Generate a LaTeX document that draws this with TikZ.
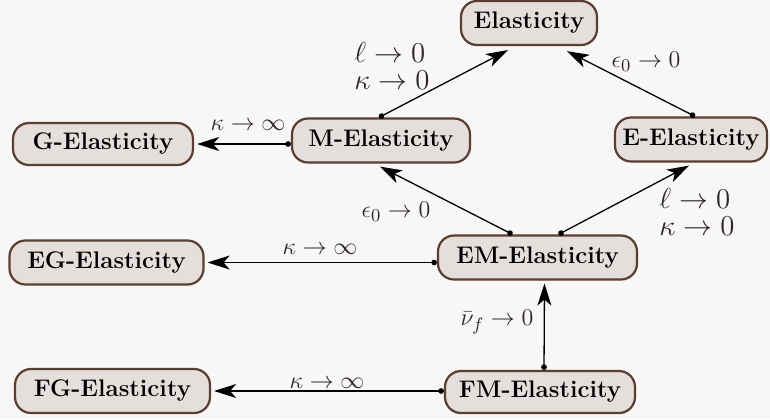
\documentclass[tikz,border=0pt]{standalone}
\usetikzlibrary{calc,arrows.meta}
\definecolor{bgc}{HTML}{F7F7F7}
\definecolor{boxfill}{HTML}{E4DFDC}
\definecolor{boxline}{HTML}{5C3D2E}
\definecolor{labc}{HTML}{2E2522}
\begin{document}
\begin{tikzpicture}[x=0.5pt,y=-0.5pt,
  ebox/.style={draw=boxline,fill=boxfill,line width=1.1pt,rounded corners=8pt,
    minimum height=22pt,inner xsep=0pt,
    font=\fontsize{12}{14}\selectfont\bfseries},
  lab/.style={text=labc,font=\fontsize{12.8}{14}\selectfont,inner sep=0pt},
  biglab/.style={lab,align=left,font=\fontsize{13.8}{14}\selectfont},
  conn/.style={line width=0.65pt,{Circle[length=2.8pt]}-{Stealth[length=11pt,width=7pt,inset=3pt]}}]
\fill[bgc] (0,0) rectangle (770,419);
\useasboundingbox (0,0) rectangle (770,419);
\node[ebox,minimum width=68pt] (Elast) at (529,23) {Elasticity};
\node[ebox,minimum width=89pt] (M) at (381,140.5) {M-Elasticity};
\node[ebox,minimum width=90pt,minimum height=21pt] (G) at (103,144) {G-Elasticity};
\node[ebox,minimum width=76pt] (E) at (691,139.5) {E-Elasticity};
\node[ebox,minimum width=99.5pt] (EM) at (537.5,257.5) {EM-Elasticity};
\node[ebox,minimum width=97pt] (EG) at (106.5,262.5) {EG-Elasticity};
\node[ebox,minimum width=95pt,minimum height=21pt] (FM) at (540,392) {FM-Elasticity};
\node[ebox,minimum width=97.5pt] (FG) at (112.5,391) {FG-Elasticity};

\draw[conn] ($(M.north)+(-2,0)$) -- ($(Elast.south)+(-21,4)$);
\draw[conn] ($(E.north)+(4,0)$) -- ($(Elast.south)+(38,5)$);
\draw[conn] (M.west |- G.east) -- ($(G.east)+(3,0)$);
\draw[conn] ($(EM.north)+(-25,0)$) -- ($(M.south)+(-1,3)$);
\draw[conn] ($(EM.north)+(21,0)$) -- ($(E.south)+(-2,3)$);
\draw[conn] (EM.west |- EG.east) -- ($(EG.east)+(3,0)$);
\draw[conn] ($(FM.north)+(4,0)$) -- ($(EM.south)+(7,3)$);
\draw[conn] (FM.west |- FG.east) -- ($(FG.east)+(3,0)$);

\node[biglab] (l1) at (392,66) {$\ell\to 0$\\[-0.5pt]$\kappa\to 0$};
\node[lab] (l2) at (646,62) {$\epsilon_0\to 0$};
\node[lab] (l3) at (248,125) {$\kappa\to\infty$};
\node[lab] (l4) at (396,212) {$\epsilon_0\to 0$};
\node[biglab] (l5) at (697,212) {$\ell\to 0$\\[-0.5pt]$\kappa\to 0$};
\node[lab] (l6) at (320,249) {$\kappa\to\infty$};
\node[lab] (l7) at (497,322) {$\bar{\nu}_f\to 0$};
\node[lab] (l8) at (327,383) {$\kappa\to\infty$};
\end{tikzpicture}
\end{document}
